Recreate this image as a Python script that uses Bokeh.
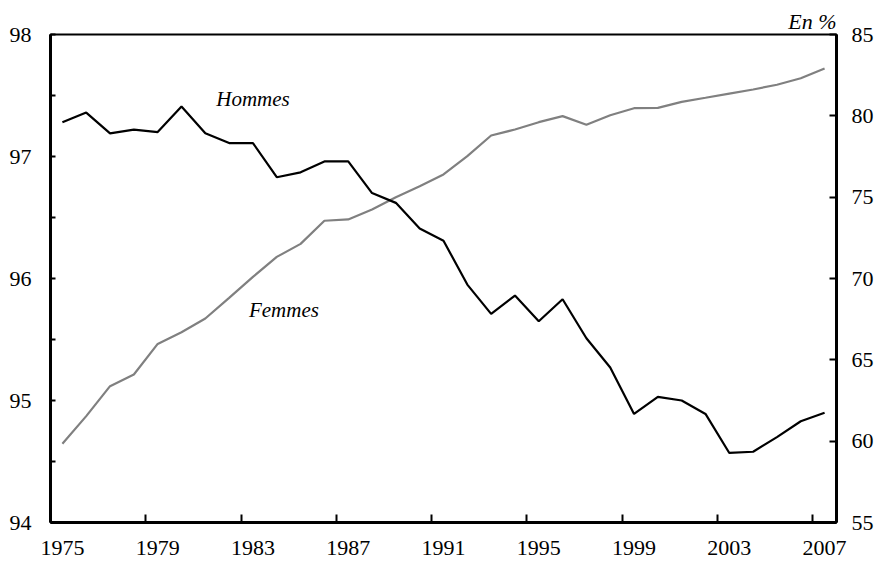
from bokeh.plotting import figure
from bokeh.models import Range1d, LinearAxis, FixedTicker, Label, ColumnDataSource
from bokeh.embed import file_html
from bokeh.resources import INLINE

years = list(range(1975, 2008))
hommes = [97.28, 97.36, 97.19, 97.22, 97.20, 97.41, 97.19, 97.11, 97.11, 96.83,
          96.87, 96.96, 96.96, 96.70, 96.62, 96.41, 96.31, 95.95, 95.71, 95.86,
          95.65, 95.83, 95.51, 95.27, 94.89, 95.03, 95.00, 94.89, 94.57, 94.58,
          94.70, 94.83, 94.90]
femmes = [59.84, 61.54, 63.38, 64.10, 65.98, 66.70, 67.54, 68.81, 70.10, 71.33,
          72.13, 73.55, 73.63, 74.24, 75.00, 75.67, 76.40, 77.52, 78.79, 79.16,
          79.61, 79.98, 79.45, 80.04, 80.47, 80.49, 80.86, 81.11, 81.37, 81.62,
          81.91, 82.31, 82.91]
x_tick_years = [1975, 1979, 1983, 1987, 1991, 1995, 1999, 2003, 2007]
left_ticks = [94, 95, 96, 97, 98]
right_ticks = [55, 60, 65, 70, 75, 80, 85]

FONT = "Liberation Serif"

src = ColumnDataSource(dict(year=years, hommes=hommes, femmes=femmes))

p = figure(width=876, height=561, output_backend="svg", toolbar_location=None,
           x_range=Range1d(years[0] - 0.5, years[-1] + 0.5),
           y_range=Range1d(94, 98),
           min_border_left=50, min_border_right=40, min_border_top=34, min_border_bottom=39)
p.extra_y_ranges = {"f": Range1d(55, 85)}

p.grid.visible = False
p.background_fill_color = "white"
p.border_fill_color = "white"
p.outline_line_color = "black"
p.outline_line_width = 2

p.title.text = "En %"
p.title.align = "right"
p.title.text_font = FONT
p.title.text_font_size = "22px"
p.title.text_font_style = "italic"
p.title.text_color = "black"
p.title.standoff = 2
p.title.offset = 0

# x axis
xa = p.xaxis[0]
xa.ticker = FixedTicker(ticks=x_tick_years,
                        minor_ticks=[y - 0.5 for y in x_tick_years[1:]])
xa.major_tick_line_color = None
xa.minor_tick_in = 8
xa.minor_tick_out = 0
xa.minor_tick_line_width = 2
xa.minor_tick_line_color = "black"
xa.axis_line_width = 3
xa.major_label_text_font = FONT
xa.major_label_text_font_size = "22px"
xa.major_label_text_color = "black"
xa.major_label_standoff = 12

# left axis
ya = p.yaxis[0]
ya.ticker = FixedTicker(ticks=left_ticks, minor_ticks=[94.5, 95.5, 96.5, 97.5])
ya.major_tick_in = 5
ya.major_tick_out = 0
ya.minor_tick_in = 5
ya.minor_tick_out = 0
ya.major_tick_line_width = 2
ya.minor_tick_line_width = 2
ya.axis_line_width = 3
ya.major_label_text_font = FONT
ya.major_label_text_font_size = "22px"
ya.major_label_text_color = "black"
ya.major_label_standoff = 19

# right axis
ra = LinearAxis(y_range_name="f", ticker=FixedTicker(ticks=right_ticks))
ra.major_tick_in = 7
ra.major_tick_out = 0
ra.minor_tick_line_color = None
ra.major_tick_line_width = 2
ra.axis_line_width = 3
ra.major_label_text_font = FONT
ra.major_label_text_font_size = "22px"
ra.major_label_text_color = "black"
ra.major_label_standoff = 15
p.add_layout(ra, "right")

p.line("year", "femmes", source=src, y_range_name="f", line_color="#808080", line_width=2.2)
p.line("year", "hommes", source=src, line_color="black", line_width=2.2)

p.add_layout(Label(x=1983.0, y=97.47, text="Hommes", text_font=FONT, text_font_size="21px",
                   text_color="black",
                   text_font_style="italic", text_align="center", text_baseline="middle"))
p.add_layout(Label(x=1984.3, y=95.74, text="Femmes", text_font=FONT, text_font_size="21px",
                   text_color="black",
                   text_font_style="italic", text_align="center", text_baseline="middle"))

open("out.html", "w").write(file_html(p, INLINE))
